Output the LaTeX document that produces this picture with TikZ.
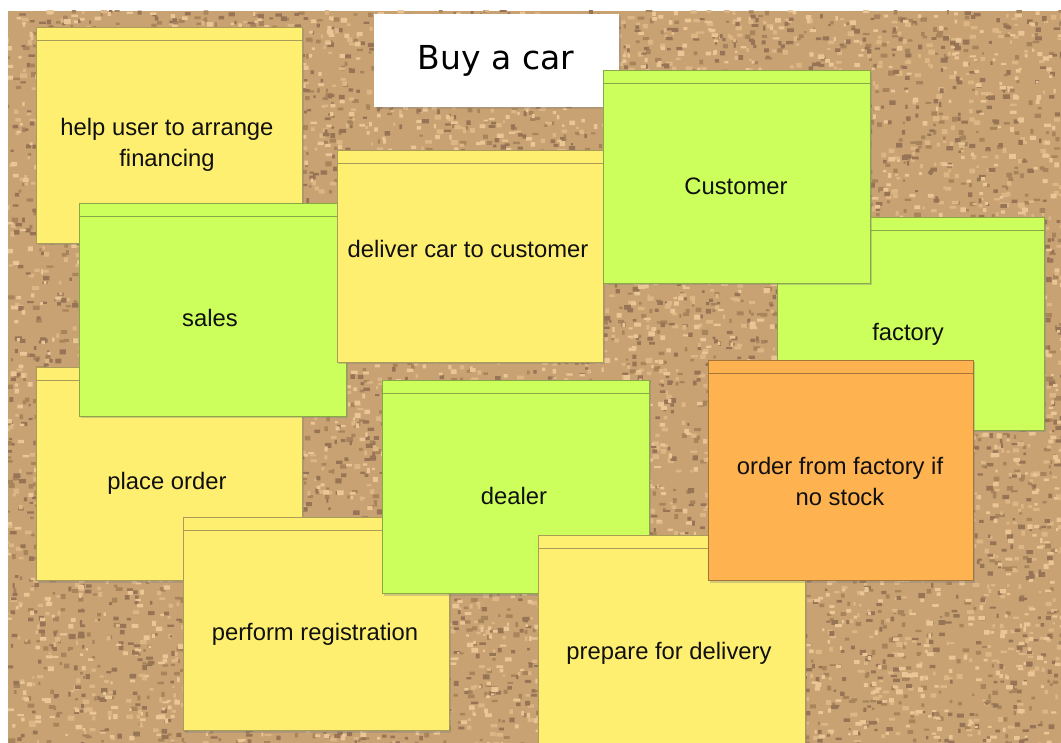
\documentclass[tikz,border=0pt]{standalone}
\usepackage{fontspec}
\setmainfont{Liberation Sans}
\newfontfamily\titlefont{DejaVu Sans}
\usetikzlibrary{shadows}
\definecolor{corkbase}{HTML}{C8A272}
\definecolor{cork1}{HTML}{A8845C}
\definecolor{cork2}{HTML}{DDB686}
\definecolor{cork3}{HTML}{967455}
\definecolor{cork4}{HTML}{EAC696}
\definecolor{noteyellow}{HTML}{FFEF70}
\definecolor{yellowedge}{HTML}{A89C58}
\definecolor{notegreen}{HTML}{CCFF5C}
\definecolor{greenedge}{HTML}{88A848}
\definecolor{noteorange}{HTML}{FFB250}
\definecolor{orangeedge}{HTML}{A47438}
\definecolor{inktext}{HTML}{101010}
\tikzset{
  hdr/.style={path picture={\draw[#1, line width=0.9pt]
      ([yshift=-13pt]path picture bounding box.north west) --
      ([yshift=-13pt]path picture bounding box.north east);}},
  notebase/.style={rectangle, inner sep=0pt, line width=0.8pt,
      drop shadow={shadow xshift=2pt, shadow yshift=-2.5pt, opacity=0.35}},
  ynote/.style={notebase, fill=noteyellow, draw=yellowedge, hdr=yellowedge},
  gnote/.style={notebase, fill=notegreen, draw=greenedge, hdr=greenedge},
  onote/.style={notebase, fill=noteorange, draw=orangeedge, hdr=orangeedge},
  ntext/.style={inner sep=0pt, align=center, text=inktext,
      font=\fontsize{23.8}{31}\selectfont},
  sz/.style 2 args={minimum width=#1pt, minimum height=#2pt},
}
\begin{document}
\begin{tikzpicture}[x=1pt, y=-1pt]
\useasboundingbox (0,0) rectangle (1061,743);
% cork board
\begin{scope}
  \clip (8,11) rectangle (1061,743);
  \fill[corkbase] (8,11) rectangle (1061,743);
  \pgfmathsetseed{7}
  \foreach \c in {1,2,3,4}{
    \fill[cork\c] \foreach \i in {1,...,2600}{
      (6+1055*rnd, 9+734*rnd) rectangle ++(2+5*rnd, 2+3*rnd)
    };
  }
\end{scope}
% notes, bottom to top
\node[ynote, sz={266}{216}] (help) at (169,135) {};
\node[ntext] (helpt) at (167,145) {help user to arrange\\financing};
\node[ynote, sz={266}{213}] (place) at (169,473.5) {};
\node[ntext] (placet) at (167,483) {place order};
\node[gnote, sz={267}{213}] (sales) at (212.5,309.5) {};
\node[ntext] (salest) at (210,318) {sales};
\node[rectangle, fill=white, inner sep=0pt, sz={245}{93},
      drop shadow={shadow xshift=1.5pt, shadow yshift=-2pt, opacity=0.3}] (title) at (496.5,60.5) {};
\node[inner sep=0pt, text=black, font=\titlefont\fontsize{33}{38}\selectfont] (titlet) at (496,61) {Buy a car};
\node[ynote, sz={266}{212}] (deliver) at (470,256) {};
\node[ntext] (delivert) at (468,249) {deliver car to customer};
\node[gnote, sz={267}{213}] (factory) at (910.5,323.5) {};
\node[ntext] (factoryt) at (908,334) {factory};
\node[gnote, sz={267}{213}] (customer) at (736.5,176.5) {};
\node[ntext] (customert) at (736,186) {Customer};
\node[ynote, sz={266}{213}] (regist) at (316,623.5) {};
\node[ntext] (registt) at (315,634) {perform registration};
\node[gnote, sz={267}{213}] (dealer) at (515.5,486.5) {};
\node[ntext] (dealert) at (514,496) {dealer};
\node[ynote, sz={267}{213}] (prepare) at (671.5,641.5) {};
\node[ntext] (preparet) at (669,653) {prepare for delivery};
\node[onote, sz={265}{220}] (orderf) at (840.5,470) {};
\node[ntext] (orderft) at (840,481) {order from factory if\\no stock};
\end{tikzpicture}
\end{document}
